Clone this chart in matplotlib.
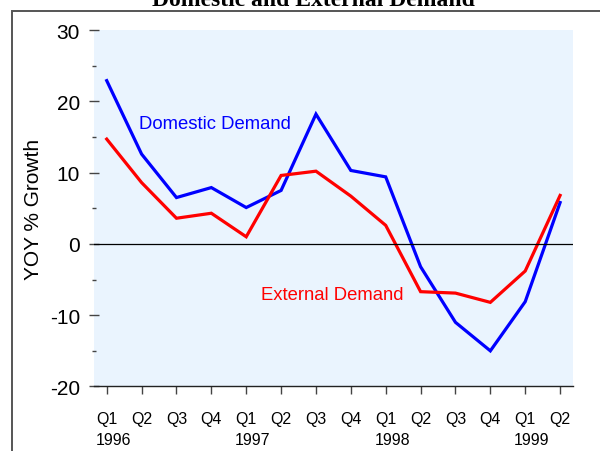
import matplotlib
matplotlib.use("Agg")
import matplotlib.pyplot as plt
from matplotlib.patches import Rectangle
import numpy as np

# quarterly labels, Q1 1996 .. Q2 1999
quarters = ["Q1", "Q2", "Q3", "Q4", "Q1", "Q2", "Q3", "Q4",
            "Q1", "Q2", "Q3", "Q4", "Q1", "Q2"]
years = ["1996", "1997", "1998", "1999"]
yearPos = [0, 4, 8, 12]

# YOY % growth
domestic = [22.9, 12.6, 6.5, 7.9, 5.1, 7.5, 18.2, 10.3, 9.4,
            -3.2, -11.0, -15.0, -8.1, 5.8]
external = [14.7, 8.6, 3.6, 4.3, 1.0, 9.6, 10.2, 6.7, 2.6,
            -6.7, -6.9, -8.2, -3.8, 6.8]

plt.rcParams['font.family'] = ['Liberation Sans', 'DejaVu Sans']
plt.rcParams['axes.unicode_minus'] = False

fig = plt.figure(figsize=(6, 4.52), dpi=100)
ax = fig.add_axes([0.1567, 0.1427, 0.7983, 0.7887])
ax.set_facecolor('#EAF4FE')

x = np.arange(len(quarters))
ax.plot(x, domestic, color='#0000FF', linewidth=2.3, solid_joinstyle='miter')
ax.plot(x, external, color='#FF0000', linewidth=2.3, solid_joinstyle='miter')
ax.axhline(0, color='black', linewidth=0.9)

ax.set_xlim(-0.364, 13.37)
ax.set_ylim(-20, 30)

# in-chart series labels
ax.text(0.935, 16.9, "Domestic Demand", color='#0000FF', fontsize=13.3,
        ha='left', va='center')
ax.text(4.41, -7.1, "External Demand", color='#FF0000', fontsize=13.3,
        ha='left', va='center')

# axes styling
for side in ['top', 'right', 'left']:
    ax.spines[side].set_visible(False)
ax.spines['bottom'].set_color('#222222')
ax.spines['bottom'].set_linewidth(1.0)

ax.set_yticks([-20, -10, 0, 10, 20, 30])
ax.set_yticks([-15, -5, 5, 15, 25], minor=True)
ax.tick_params(axis='y', which='major', direction='inout', length=6.5,
               width=1.0, color='#444444', pad=6.8, labelsize=15)
ax.tick_params(axis='y', which='minor', direction='inout', length=3,
               width=1.0, color='#444444')

ax.set_xticks(x)
ax.set_xticklabels(quarters)
ax.tick_params(axis='x', direction='out', length=5.8, width=1.0,
               color='#444444', pad=11.5, labelsize=11.5)

# year labels under the Q1 ticks, left aligned with the Q1 text
for pos, yr in zip(yearPos, years):
    ax.annotate(yr, xy=(pos, 0), xycoords=ax.get_xaxis_transform(),
                xytext=(-11, -53), textcoords='offset pixels',
                ha='left', va='center', fontsize=11.5)

ax.set_ylabel("YOY % Growth", fontsize=15, va='center')
ax.yaxis.set_label_coords(-(94 - 33) / (0.7983 * 600), 0.5)

# title, partly cut off at the top of the image
fig.text(313 / 600, 1 - 6 / 452, "Domestic and External Demand",
         family=['Liberation Serif', 'DejaVu Serif'], fontweight='bold',
         fontsize=17, ha='center', va='baseline')

# frame around the figure (extends past the right and bottom edges)
fig.patches.append(Rectangle((12 / 600, -0.1), 1.2, 1 - 12 / 452 + 0.1,
                             transform=fig.transFigure, fill=False,
                             edgecolor='#555555', linewidth=1.4))

fig.savefig("out.png", dpi=100)
